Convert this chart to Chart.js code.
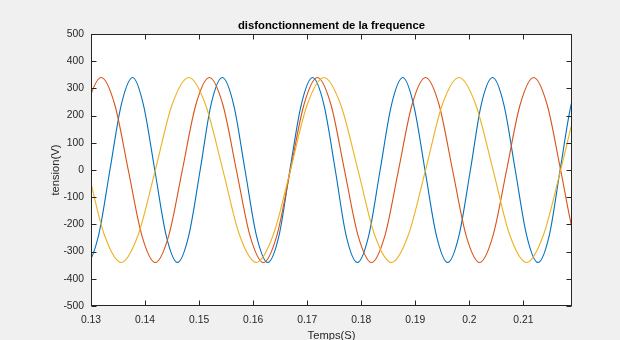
<!DOCTYPE html>
<html>
<head>
<meta charset="utf-8">
<script src="https://cdn.jsdelivr.net/npm/chart.js@4"></script>
<style>
  html, body { margin: 0; padding: 0; background: #f0f0f0; }
  #wrap { width: 620px; height: 340px; }
</style>
</head>
<body>
<div id="wrap"><canvas id="tensionChart" width="620" height="340"></canvas></div>
<script>
// values: time (s) and tension (V)
var xTicksMin = 0.13, xTicksMax = 0.219, xStep = 0.01;
var yMin = -500, yMax = 500, yStep = 100;

var blueT = [0.1272, 0.1293, 0.1314, 0.1335, 0.1356, 0.1377, 0.1397, 0.1418, 0.1439,
             0.1460, 0.1481, 0.1502, 0.1522, 0.1543, 0.1564, 0.1585, 0.1606,
             0.1627, 0.1648, 0.1668, 0.1689, 0.1710, 0.1731, 0.1752, 0.1772,
             0.1793, 0.1814, 0.1835, 0.1856, 0.1877, 0.1897, 0.1918, 0.1939,
             0.1960, 0.1981, 0.2002, 0.2022, 0.2043, 0.2064, 0.2085, 0.2106,
             0.2127, 0.2148, 0.2168, 0.2189, 0.2210, 0.2231];
var blueV = [-240, -340, -240, 0, 240, 340, 240, 0, -240,
             -340, -240, 0, 240, 340, 240, 0, -240,
             -340, -240, 0, 240, 340, 240, 0, -240,
             -340, -240, 0, 240, 340, 240, 0, -240,
             -340, -240, 0, 240, 340, 240, 0, -240,
             -340, -240, 0, 245, 340, 240];

var redT = [0.1244, 0.1269, 0.1294, 0.1319, 0.1344, 0.1369, 0.1394, 0.1419, 0.1444,
            0.1469, 0.1494, 0.1519, 0.1544, 0.1569, 0.1594, 0.1619, 0.1644,
            0.1669, 0.1694, 0.1719, 0.1744, 0.1769, 0.1794, 0.1819, 0.1844,
            0.1869, 0.1894, 0.1919, 0.1944, 0.1969, 0.1994, 0.2019, 0.2044,
            0.2069, 0.2094, 0.2119, 0.2144, 0.2169, 0.2194, 0.2219];
var redV = [-240, 0, 240, 340, 240, 0, -240, -340, -240,
            0, 240, 340, 240, 0, -240, -340, -240,
            0, 240, 340, 240, 0, -240, -340, -240,
            0, 240, 340, 240, 0, -240, -340, -240,
            0, 240, 340, 240, 0, -245, -340];

var yellowT = [0.1262, 0.1294, 0.1325, 0.1356, 0.1387, 0.1419, 0.1450, 0.1481, 0.1512,
               0.1544, 0.1575, 0.1606, 0.1637, 0.1669, 0.1700, 0.1731, 0.1762,
               0.1794, 0.1825, 0.1856, 0.1887, 0.1919, 0.1950, 0.1981, 0.2012,
               0.2044, 0.2075, 0.2106, 0.2137, 0.2169, 0.2200, 0.2231];
var yellowV = [240, 0, -240, -340, -240, 0, 240, 340, 240,
               0, -240, -340, -240, 0, 240, 340, 240,
               0, -240, -340, -240, 0, 240, 340, 240,
               0, -240, -340, -240, 0, 240, 340];

var axisColor = "#262626";
var fontFam = "'Liberation Sans', Arial, Helvetica, sans-serif";

function toPoints(ts, vs) {
  var pts = [];
  for (var i = 0; i < ts.length; i++) pts.push({x: ts[i], y: vs[i]});
  return pts;
}

function lineSet(label, ts, vs, color, order) {
  return {
    label: label,
    data: toPoints(ts, vs),
    borderColor: color,
    borderWidth: 1.1,
    pointRadius: 0,
    fill: false,
    cubicInterpolationMode: "monotone",
    order: order
  };
}

// matlab look: grey figure, white axes, box with inward ticks
var matlabBox = {
  id: "matlabBox",
  beforeDraw: function(chart) {
    var c = chart.ctx, a = chart.chartArea;
    c.save();
    c.fillStyle = "#f0f0f0";
    c.fillRect(0, 0, chart.width, chart.height);
    c.fillStyle = "#ffffff";
    c.fillRect(a.left, a.top, a.right - a.left, a.bottom - a.top);
    c.restore();
  },
  afterDraw: function(chart) {
    var c = chart.ctx, a = chart.chartArea;
    var xs = chart.scales.x, ys = chart.scales.y;
    var L = Math.round(a.left) + 0.5, R = Math.round(a.right) - 0.5;
    var T = Math.round(a.top) + 0.5, B = Math.round(a.bottom) - 0.5;
    c.save();
    c.strokeStyle = axisColor;
    c.lineWidth = 1;
    c.beginPath();
    xs.ticks.forEach(function(t) {
      var px = Math.round(xs.getPixelForValue(t.value)) + 0.5;
      c.moveTo(px, B); c.lineTo(px, B - 5);
      c.moveTo(px, T); c.lineTo(px, T + 5);
    });
    ys.ticks.forEach(function(t) {
      var py = Math.round(ys.getPixelForValue(t.value)) + 0.5;
      c.moveTo(L, py); c.lineTo(L + 5, py);
      c.moveTo(R, py); c.lineTo(R - 5, py);
    });
    c.stroke();
    c.strokeRect(L, T, R - L, B - T);
    c.restore();
  }
};

function cleanNum(v) {
  return String(Number(v.toFixed(4)));
}

var chart = new Chart(document.getElementById("tensionChart"), {
  type: "line",
  data: {
    datasets: [
      lineSet("Va", blueT, blueV, "#0072bd", 3),
      lineSet("Vb", redT, redV, "#d95319", 2),
      lineSet("Vc", yellowT, yellowV, "#edb120", 1)
    ]
  },
  options: {
    responsive: false,
    devicePixelRatio: 1,
    animation: false,
    layout: {padding: {left: 0, right: 48, top: 0, bottom: 0}},
    plugins: {
      legend: {display: false},
      tooltip: {enabled: false},
      title: {
        display: true,
        fullSize: false,
        text: "disfonctionnement de la frequence",
        color: "#000000",
        font: {family: fontFam, size: 11.3, weight: "bold"},
        padding: {top: 19, bottom: 1.5}
      }
    },
    scales: {
      x: {
        type: "linear",
        min: xTicksMin,
        max: xTicksMax,
        afterFit: function(s) { s.height = 34; },
        grid: {display: false, drawTicks: false},
        border: {display: false},
        ticks: {
          stepSize: xStep,
          includeBounds: false,
          autoSkip: false,
          maxRotation: 0,
          padding: 8,
          color: axisColor,
          font: {family: fontFam, size: 10.3},
          callback: function(v) { return cleanNum(v); }
        },
        title: {
          display: true,
          text: "Temps(S)",
          color: axisColor,
          font: {family: fontFam, size: 11.2},
          padding: {top: 0, bottom: -3}
        }
      },
      y: {
        type: "linear",
        min: yMin,
        max: yMax,
        afterFit: function(s) { s.width = 91; },
        grid: {display: false, drawTicks: false},
        border: {display: false},
        ticks: {
          stepSize: yStep,
          padding: 7,
          color: axisColor,
          font: {family: fontFam, size: 10.3},
          callback: function(v) { return cleanNum(v); }
        },
        title: {
          display: true,
          text: "tension(V)",
          color: axisColor,
          font: {family: fontFam, size: 11.2},
          padding: {top: 49, bottom: 0}
        }
      }
    }
  },
  plugins: [matlabBox]
});
</script>
</body>
</html>
